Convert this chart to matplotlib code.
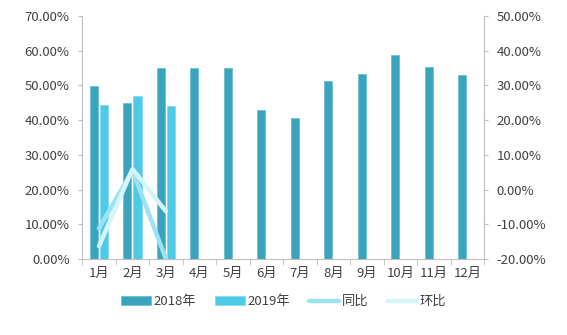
import numpy as np
import matplotlib.pyplot as plt
from matplotlib.ticker import FuncFormatter, FixedLocator

plt.rcParams['font.family'] = ['Noto Sans CJK SC', 'DejaVu Sans']

# -----------------------------
# DATA
# -----------------------------
months = ["1月", "2月", "3月", "4月", "5月", "6月", "7月", "8月", "9月", "10月", "11月", "12月"]
rate_2018 = [49.9, 44.9, 55.0, 55.0, 55.0, 42.8, 40.7, 51.3, 53.4, 58.8, 55.2, 52.9]
rate_2019 = [44.4, 47.0, 44.1]
yoy = [-11.2, 5.5, -20.0]   # 同比
mom = [-16.3, 5.9, -6.3]    # 环比

C2018 = "#3aa3bd"
C2019 = "#4fcae6"
C_YOY = "#9de2f2"
C_MOM = "#d6f5fb"
GRAY = "#bfbfbf"
TXT = "#404040"

# -----------------------------
# PLOT
# -----------------------------
fig = plt.figure(figsize=(5.67, 3.35), dpi=100)
ax = fig.add_axes([0.145, 0.227, 0.709, 0.725])
ax2 = ax.twinx()

x = np.arange(len(months))
w = 0.24
gap = 0.03
ax.bar(x - w / 2 - gap, rate_2018, width=w, color=C2018, edgecolor="#6cbfd3",
       linewidth=0.6, label="2018年", zorder=2)
ax.bar(x[:len(rate_2019)] + w / 2 + gap, rate_2019, width=w, color=C2019,
       edgecolor="#85dcef", linewidth=0.6, label="2019年", zorder=2)

ax2.plot(x[:len(yoy)], yoy, color=C_YOY, lw=3.2, solid_capstyle="round",
         solid_joinstyle="round", label="同比", zorder=3)
ax2.plot(x[:len(mom)], mom, color=C_MOM, lw=3.2, solid_capstyle="round",
         solid_joinstyle="round", label="环比", zorder=3)

ax.set_xlim(-0.5, len(months) - 0.5)
ax.set_ylim(0, 70)
ax2.set_ylim(-20, 50)
ax.set_yticks(np.arange(0, 71, 10))
ax2.set_yticks(np.arange(-20, 51, 10))
pct = FuncFormatter(lambda v, p: f"{v:.2f}%")
ax.yaxis.set_major_formatter(pct)
ax2.yaxis.set_major_formatter(pct)

ax.set_xticks(x)
ax.set_xticklabels(months)
ax.xaxis.set_minor_locator(FixedLocator(np.arange(-0.5, len(months), 1)))
ax.tick_params(axis="x", which="major", length=0, pad=6)
ax.tick_params(axis="x", which="minor", length=4, color=GRAY)

for a in (ax, ax2):
    a.tick_params(axis="y", length=3, color=GRAY, labelsize=9.5, labelcolor=TXT, pad=6)
    a.tick_params(axis="x", labelsize=9.5, labelcolor=TXT)
    a.spines["top"].set_visible(False)
    for s in ("left", "right", "bottom"):
        a.spines[s].set_color(GRAY)
ax.spines["right"].set_visible(False)
ax2.spines["left"].set_visible(False)
ax2.spines["bottom"].set_visible(False)

h1, l1 = ax.get_legend_handles_labels()
h2, l2 = ax2.get_legend_handles_labels()
fig.legend(h1 + h2, l1 + l2, loc="center", bbox_to_anchor=(0.5, 0.1), ncol=4,
           frameon=False, fontsize=9.5, labelcolor=TXT, handlelength=2.3,
           handleheight=0.6, columnspacing=1.4, handletextpad=0.2)

fig.savefig("out.png", dpi=100)
